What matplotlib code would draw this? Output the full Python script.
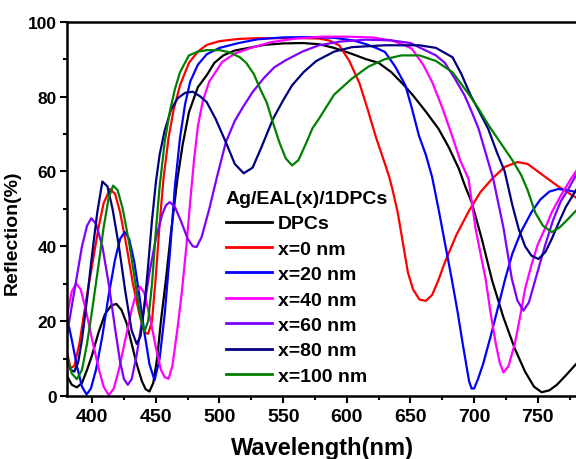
import matplotlib
matplotlib.use("Agg")
import matplotlib.pyplot as plt
from matplotlib.ticker import MultipleLocator

plt.rcParams['font.family'] = ['Liberation Sans', 'DejaVu Sans']
plt.rcParams['font.weight'] = 'bold'

# ---- data (wavelength nm, reflection %) ----
dpcs_x = [380, 384, 388, 392, 396, 400, 405, 410, 415, 419, 423, 427, 431, 435, 439, 442, 445, 448, 451, 454,
          458, 462, 467, 471, 476, 483, 490, 496, 503, 512, 523, 535, 550, 565, 578, 590, 604, 615, 625, 635,
          645, 652, 662, 672, 680, 688, 693, 698, 706, 714, 723, 732, 740, 747, 753, 759, 765, 772, 780]
dpcs_y = [5.5, 3.0, 2.3, 3.5, 7, 11, 17, 21.8, 24.2, 24.6, 23, 19.5, 14, 8.5, 4, 1.8, 1.2, 3.5, 10, 20,
          31.3, 44, 58, 67, 75.8, 82.5, 85.7, 89, 91, 92.3, 93, 93.8, 94.2, 94.3, 94, 93, 91.4, 90, 89, 86.5,
          83, 80.3, 76, 71.4, 66.5, 60.7, 56, 51.8, 42, 31, 21, 12.6, 6.5, 2.5, 1.0, 1.5, 3, 5.5, 8.5]

x0_x = [380, 383, 386, 390, 395, 400, 405, 409, 414, 418, 422, 427, 432, 437, 441, 444, 447, 450, 453, 456,
        460, 464, 469, 476, 483, 490, 500, 515, 530, 550, 565, 578, 586, 594, 602, 610, 616, 623, 628, 633,
        636, 640, 644, 648, 652, 657, 662, 667, 672, 677, 686, 696, 705, 714, 724, 734, 742, 750, 758, 766,
        773, 780]
x0_y = [12, 7.5, 8, 14, 25, 35, 45, 51.5, 55.3, 54, 49, 40, 30, 22, 17, 16.6, 20, 32, 46, 58,
        69, 76.5, 83, 89, 92, 93.8, 94.8, 95.4, 95.6, 95.6, 95.6, 95.5, 95, 93.7, 89.5, 83.5, 77, 69, 64, 58.9,
        55, 49, 41, 33, 28.5, 25.8, 25.4, 27, 31, 35.7, 43, 49.5, 54.5, 58, 61.2, 62.5, 62, 60, 58, 56,
        54.5, 53]

x20_x = [380, 384, 388, 392, 395.6, 399, 403, 408, 413, 418, 422, 425.6, 429, 433, 437, 441, 445, 449, 453, 457,
         461, 465, 469, 473, 477, 483, 490, 500, 515, 530, 550, 570, 590, 605, 615, 623, 630, 638, 646, 651,
         656.6, 662, 667, 672, 677, 682, 687, 691, 694, 696, 698, 700, 703, 707, 713, 719, 724.4, 730, 737, 745,
         752, 759, 766, 773, 780]
x20_y = [21.5, 15, 8, 2.5, 0.4, 2, 7, 16, 27, 36.5, 42, 43.8, 42, 36, 27, 17, 8.5, 4.2, 10, 22,
         38, 56, 69, 78, 84, 88.5, 91.3, 93, 94.3, 95.3, 95.8, 95.9, 95.7, 95, 94, 93, 91.9, 88, 83, 77,
         69.6, 64.5, 58.5, 50, 41, 32, 22.5, 14, 8, 4, 2, 2, 4.5, 8.5, 16, 24, 31.3, 38, 44, 49.1,
         52.5, 54.6, 55.3, 55, 54.5]

x40_x = [380, 384, 387.5, 391, 395, 400, 405, 409, 413, 417, 421, 426, 431, 435, 437.5, 441, 446, 450, 454, 457,
         460, 463, 467, 470.5, 474, 477, 480, 483, 487, 492, 502, 512, 523, 540, 560, 580, 600, 620, 635, 645,
         651, 660, 667, 675, 682.6, 689, 695.6, 701, 705, 709, 713, 717, 720, 723, 727, 732, 736, 740, 745, 750,
         756, 761, 768, 776, 780]
x40_y = [21, 28, 30, 28.5, 23, 15, 7.5, 2.5, 0.2, 2, 7, 15, 23, 28, 29.2, 27.5, 20, 13, 7, 5,
         4.6, 8, 18, 28, 40, 52, 63, 72, 79, 84, 89.2, 91.5, 92.8, 94.5, 95.5, 96, 96, 95.8, 95, 93.8,
         92.8, 88.5, 83.9, 77, 69.6, 63, 58, 45, 38, 31.3, 22, 14, 9, 6.3, 8, 14, 21, 28.6, 35, 40.5,
         45, 49.1, 53.5, 58, 60]

x60_x = [380, 384, 388, 392, 396, 399.3, 403, 408, 413, 418, 422, 425, 428, 431, 435, 440, 445, 450, 455, 458,
         461, 465, 470, 475, 479, 482, 486, 492, 498, 505, 512, 519, 526, 535, 543, 552, 565, 578, 595, 615,
         635, 650, 662, 670, 677, 685, 692.5, 698, 703.5, 709, 715, 723, 729.6, 734, 738.7, 743, 748, 755.7, 762, 768,
         774, 780]
x60_y = [16, 24, 32, 40, 45.5, 47.5, 46, 40, 30, 18, 9, 4.5, 3, 4.5, 11, 22, 33, 42, 48.5, 51,
         51.8, 50.5, 46.5, 42, 40, 39.8, 42.5, 50, 58.5, 67.8, 73.5, 77.5, 81.2, 85, 87.8, 89.7, 92, 93.7, 94.7, 95.2,
         95, 94.3, 92.3, 91, 89, 84.7, 80.3, 76, 71.4, 65, 58, 45, 31.3, 25.5, 22.8, 25, 31, 40.2, 47, 52,
         55.3, 59]

x80_x = [380, 383, 386, 389, 392, 396, 400, 404, 408, 412, 416, 421, 426, 431, 435, 438, 441, 444, 447, 450,
         453, 457, 462, 467, 473, 479, 485, 490, 497, 505, 512, 519, 526, 533, 542, 550, 557, 566, 576, 590,
         604, 630, 657, 670, 683, 690, 697, 704, 711, 718, 724, 730, 735, 740, 745, 750.5, 756, 761, 766, 772,
         780]
x80_y = [10, 7, 6.5, 9, 15, 26, 38, 49, 57.3, 56, 50, 40, 28, 17.5, 13.9, 16, 24, 35, 47, 57,
         64.5, 71, 76.5, 79.5, 81, 81.3, 80, 78.5, 74, 67.8, 62, 59.5, 61, 66.5, 74, 79, 83, 86.5, 89.5, 92,
         93.2, 93.7, 93.7, 93, 90.5, 86, 80.5, 76, 71.4, 65, 60, 51, 44.6, 40, 37.5, 36.6, 38.5, 42, 46, 50.5,
         55]

x100_x = [380, 384, 388, 392, 396, 400, 405, 409, 413, 416.5, 420, 424, 429, 434, 438, 441, 444, 447, 450, 453,
          457, 461, 465, 469, 476, 483, 490, 500, 508, 516, 521, 527, 532, 537, 542, 547, 552, 557, 562, 568,
          573, 578, 590, 604, 617, 630, 643, 657, 670, 683, 695, 703, 712, 720, 730, 737, 742, 748, 754, 761,
          767, 773, 780]
x100_y = [11, 6, 4.5, 7, 14, 23, 35, 45, 53, 56.2, 55, 50, 41, 30, 21, 17.2, 20, 30, 44, 56,
          68, 76, 82, 86.5, 91, 92, 92.4, 92.4, 91.8, 90.5, 89, 86, 82, 78.5, 73, 67.8, 63.5, 61.6, 63, 67.5,
          71.5, 74, 80.5, 84.8, 88, 90, 91, 91, 89.5, 86.5, 81, 77, 72, 68, 63, 59, 55, 49, 45.5, 43.8,
          45, 47, 49.5]

series_labels = ['DPCs', 'x=0 nm', 'x=20 nm', 'x=40 nm', 'x=60 nm', 'x=80 nm', 'x=100 nm']
legend_title = 'Ag/EAL(x)/1DPCs'
x_ticks = [400, 450, 500, 550, 600, 650, 700, 750]
y_ticks = [0, 20, 40, 60, 80, 100]

series = [(dpcs_x, dpcs_y), (x0_x, x0_y), (x20_x, x20_y), (x40_x, x40_y),
          (x60_x, x60_y), (x80_x, x80_y), (x100_x, x100_y)]
colors = ['#000000', '#FF0000', '#0000FF', '#FF00FF', '#8000FF', '#000080', '#008000']

fig = plt.figure(figsize=(5.76, 4.6), dpi=100)
ax = fig.add_axes([66.7 / 576, 63 / 460, (576 - 66.7) / 576, (437.3 - 63) / 460])

for (xs, ys), c, lab in zip(series, colors, series_labels):
    ax.plot(xs, ys, color=c, lw=1.6, label=lab, solid_joinstyle='round')

ax.set_xlim(380, 780)
ax.set_ylim(0, 100)
ax.set_xticks(x_ticks)
ax.set_yticks(y_ticks)
ax.xaxis.set_minor_locator(MultipleLocator(25))
ax.yaxis.set_minor_locator(MultipleLocator(10))
ax.tick_params(which='major', direction='out', length=5, width=1.5, top=False, right=False)
ax.tick_params(which='minor', direction='out', length=3, width=1.5, top=False, right=False)
ax.tick_params(axis='x', labelsize=14, pad=4)
ax.tick_params(axis='y', labelsize=12.5, pad=2)
for lbl in ax.get_xticklabels() + ax.get_yticklabels():
    lbl.set_fontweight('bold')

for s in ['left', 'bottom', 'top']:
    ax.spines[s].set_linewidth(1.8)
ax.spines['right'].set_visible(False)

ax.set_xlabel('Wavelength(nm)', fontsize=17, fontweight='bold')
ax.xaxis.set_label_coords(0.503, -0.108)
ax.set_ylabel('Reflection(%)', fontsize=14, fontweight='bold')
ax.yaxis.set_label_coords(-0.09, 0.44)

leg = ax.legend(loc='upper left', bbox_to_anchor=(226 / 576, (460 - 191) / 460),
                bbox_transform=fig.transFigure, frameon=False,
                title=legend_title, title_fontproperties={'weight': 'bold', 'size': 14},
                prop={'weight': 'bold', 'size': 14}, alignment='left',
                handlelength=2.35, handletextpad=0.3, labelspacing=0.4, borderpad=0,
                borderaxespad=0)
for h in leg.get_lines():
    h.set_linewidth(2.0)

fig.savefig('out.png', dpi=100)
